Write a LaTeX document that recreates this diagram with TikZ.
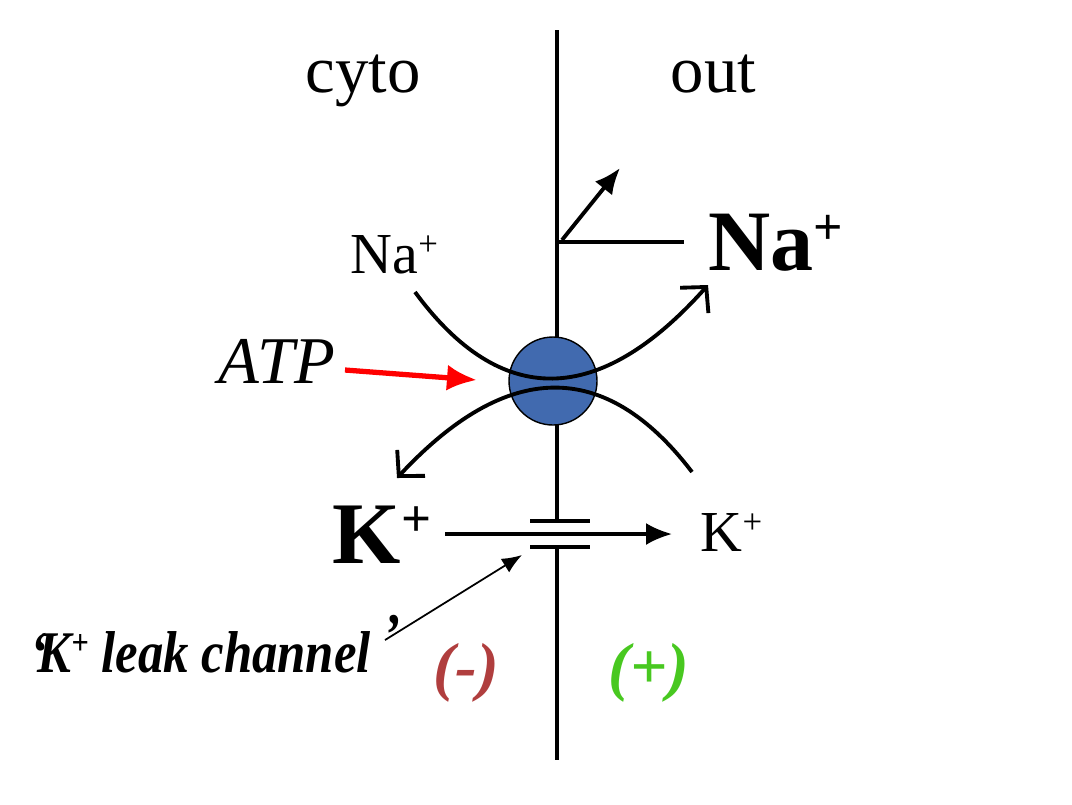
\documentclass[tikz,border=0pt]{standalone}
\usepackage{fontspec}
\usepackage{graphicx}
\setmainfont{Liberation Serif}
\usetikzlibrary{arrows.meta,calc}
\definecolor{pumpblue}{RGB}{65,106,175}
\definecolor{minusred}{RGB}{176,62,62}
\definecolor{plusgreen}{RGB}{72,200,32}
\newcommand\chg[1]{\raisebox{0.3em}{\scalebox{0.6}{#1}}}

\begin{document}
\begin{tikzpicture}[scale=1,
  lbl/.style={anchor=base west,inner sep=0pt},
  flow/.style={line width=1.1pt,-{Straight Barb[length=1.8mm,width=3.8mm,line width=1.1pt]}},
  solid arrow/.style={-{Latex[length=2.6mm,width=2.2mm]}}]
\useasboundingbox (0,0) rectangle (10.72,8.04);
% membrane with the leak channel plates
\coordinate (T) at (5.57,7.74); \coordinate (B) at (5.57,0.44);
\coordinate (P1) at (5.57,2.83); \coordinate (P2) at (5.57,2.57);
\draw[line width=1.4pt] (T)--(P1);
\draw[line width=1.4pt] (P2)--(B);
\draw[line width=1.4pt] ($(P1)+(-0.27,0)$)--($(P1)+(0.33,0)$);
\draw[line width=1.4pt] ($(P2)+(-0.27,0)$)--($(P2)+(0.33,0)$);
% the pump
\node[circle,draw,thin,fill=pumpblue,minimum size=0.88cm,inner sep=0pt] (pump) at (5.53,4.23) {};
% labels
\node[lbl,font=\fontsize{19}{22}\selectfont] (cyto) at (3.05,7.12) {cyto};
\node[lbl,font=\fontsize{19}{22}\selectfont] (out) at (6.70,7.12) {out};
\node[lbl,font=\fontsize{16.5}{19}\selectfont] (NaIn) at (3.50,5.31) {Na\chg{+}};
\node[lbl,font=\fontsize{24.5}{28}\selectfont\bfseries] (NaOut) at (7.08,5.34) {Na\chg{+}};
\node[lbl,font=\fontsize{25}{30}\selectfont\bfseries] (KIn) at (3.32,2.41) {K\chg{+}};
\node[lbl,font=\fontsize{16.5}{19}\selectfont] (KOut) at (7.00,2.53) {K\chg{+}};
\node[lbl,font=\fontsize{19}{22}\selectfont\itshape] (ATP) at (2.18,4.21) {ATP};
\node[lbl,font=\fontsize{18.5}{22}\selectfont\bfseries\itshape,text=minusred] (minus) at (4.33,1.16) {(-)};
\node[lbl,font=\fontsize{18.5}{22}\selectfont\bfseries\itshape,text=plusgreen] (plus) at (6.08,1.16) {(+)};
\node[lbl,font=\fontsize{16.8}{20}\selectfont\bfseries\itshape] (leak) at (0.30,1.32)
  {\scalebox{0.86}[1]{‘\kern-0.2em K\chg{+} leak channel\kern0.25em\raisebox{0.3em}{’}}};
% Na+ out, K+ in
\coordinate (naA) at (4.15,5.12); \coordinate (naB) at (7.08,5.19);
\coordinate (kA) at (6.92,3.32); \coordinate (kB) at (3.97,3.26);
\draw[flow] (naA) .. controls (5.01,3.95) and (5.99,3.97) .. (naB);
\draw[flow] (kA) .. controls (6.05,4.46) and (5.07,4.44) .. (kB);
% Na+ back leak
\coordinate (nb) at (5.57,5.62); \coordinate (ne) at (6.84,5.62);
\coordinate (ns) at (5.62,5.64); \coordinate (nt) at (6.20,6.36);
\draw[line width=1.1pt] (nb)--(ne);
\draw[line width=1.1pt,solid arrow] (ns)--(nt);
% ATP and K+ leak
\coordinate (atpS) at (3.45,4.34); \coordinate (atpE) at (4.77,4.24);
\draw[red,line width=1.5pt,-{Latex[length=3mm,width=2.6mm]}] (atpS)--(atpE);
\coordinate (kS) at (4.45,2.70); \coordinate (kE) at (6.72,2.70);
\draw[line width=0.9pt,solid arrow] (kS)--(kE);
\coordinate (lS) at (3.85,1.64); \coordinate (lE) at (5.22,2.49);
\draw[line width=0.5pt,-{Latex[length=2mm,width=1.6mm]}] (lS)--(lE);
\end{tikzpicture}
\end{document}
